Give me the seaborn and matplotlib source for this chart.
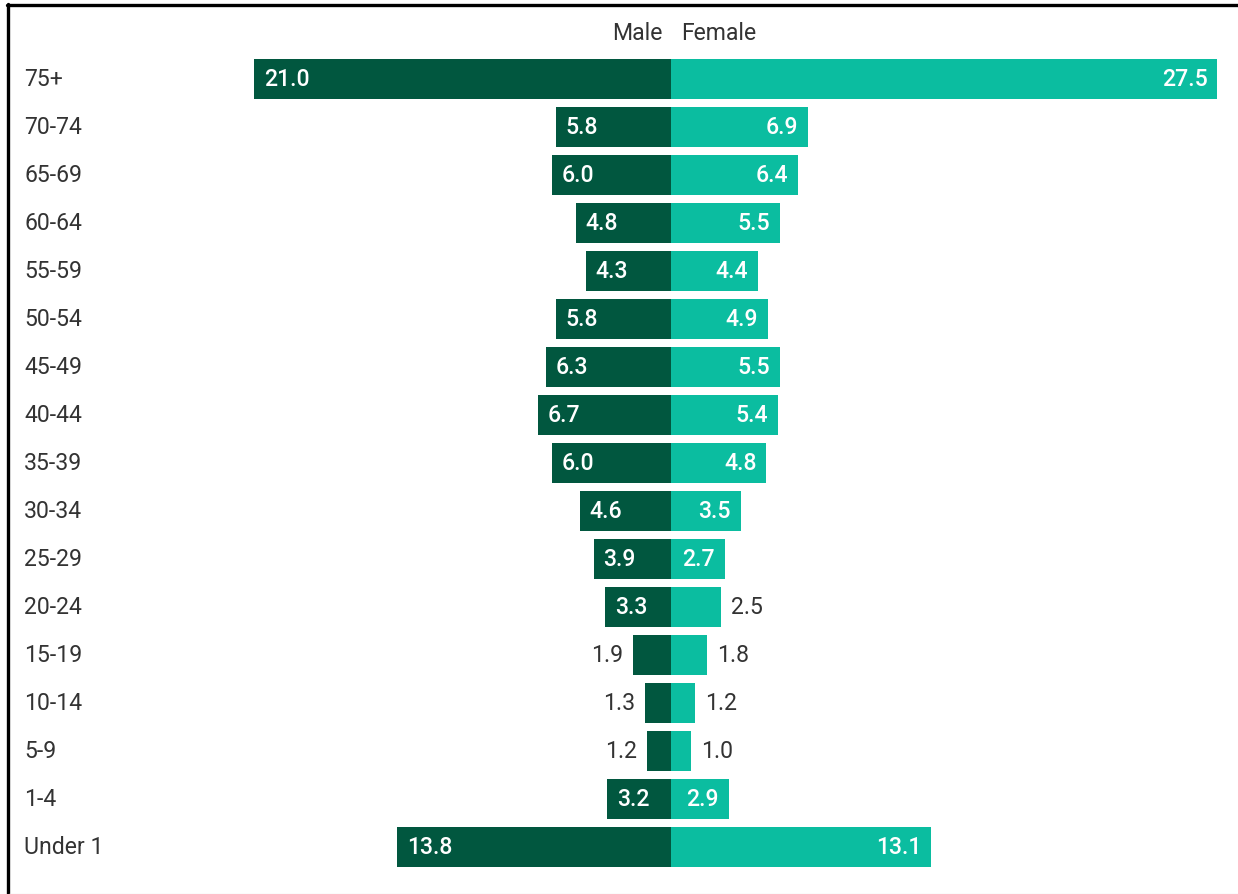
import matplotlib
matplotlib.use("Agg")
import matplotlib.pyplot as plt
from matplotlib.lines import Line2D
import seaborn as sns
import pandas as pd

categories = ["75+", "70-74", "65-69", "60-64", "55-59", "50-54", "45-49", "40-44",
              "35-39", "30-34", "25-29", "20-24", "15-19", "10-14", "5-9", "1-4", "Under 1"]
male = [21.0, 5.8, 6.0, 4.8, 4.3, 5.8, 6.3, 6.7, 6.0, 4.6, 3.9, 3.3, 1.9, 1.3, 1.2, 3.2, 13.8]
female = [27.5, 6.9, 6.4, 5.5, 4.4, 4.9, 5.5, 5.4, 4.8, 3.5, 2.7, 2.5, 1.8, 1.2, 1.0, 2.9, 13.1]
series_names = ["Male", "Female"]

MALE_C = "#01573f"
FEMALE_C = "#0bbda0"
TEXT_C = "#333333"

sns.set_theme(style="white")
plt.rcParams["font.family"] = ["Roboto", "DejaVu Sans"]

W, H = 1238, 894
fig = plt.figure(figsize=(W / 100, H / 100), dpi=100)
ax = fig.add_axes([0, 0, 1, 1])

df = pd.DataFrame({"cat": categories, "male": [-v for v in male], "female": female})
sns.barplot(data=df, x="male", y="cat", orient="h", color=MALE_C, width=0.83,
            saturation=1, ax=ax, order=categories, linewidth=0, edgecolor="none")
sns.barplot(data=df, x="female", y="cat", orient="h", color=FEMALE_C, width=0.83,
            saturation=1, ax=ax, order=categories, linewidth=0, edgecolor="none")

# pixel mapping
cx, scale = 671, 19.87
y0, dy = 79, 48
ax.set_xlim(-cx / scale, (W - cx) / scale)
ax.set_ylim((H - y0) / dy, -y0 / dy)
ax.axis("off")

pad = 10 / scale
fs = 16.6
for i, (m, f) in enumerate(zip(male, female)):
    if m >= 3.0:
        ax.text(-m + pad, i, f"{m:.1f}", ha="left", va="center", color="white",
                fontsize=fs, fontweight="medium")
    else:
        ax.text(-m - pad, i, f"{m:.1f}", ha="right", va="center", color=TEXT_C,
                fontsize=fs)
    if f >= 2.6:
        ax.text(f - pad, i, f"{f:.1f}", ha="right", va="center", color="white",
                fontsize=fs, fontweight="medium")
    else:
        ax.text(f + pad, i, f"{f:.1f}", ha="left", va="center", color=TEXT_C,
                fontsize=fs)
    ax.text(24 / W, 1 - (y0 + dy * i) / H, categories[i], transform=fig.transFigure,
            ha="left", va="center", color=TEXT_C, fontsize=fs)

fig.text(663 / W, 1 - 33 / H, series_names[0], ha="right", va="center",
         color=TEXT_C, fontsize=fs)
fig.text(681 / W, 1 - 33 / H, series_names[1], ha="left", va="center",
         color=TEXT_C, fontsize=fs)

# frame lines (top and left) as in screenshot
fig.add_artist(Line2D([7 / W, 1], [1 - 5 / H, 1 - 5 / H], transform=fig.transFigure,
                      color="black", linewidth=2.4))
fig.add_artist(Line2D([8 / W, 8 / W], [0, 1 - 4 / H], transform=fig.transFigure,
                      color="black", linewidth=2.4))
fig.add_artist(Line2D([9 / W, 1], [0.5 / H, 0.5 / H], transform=fig.transFigure,
                      color="#eeeeee", linewidth=1))

fig.savefig("out.png", dpi=100, facecolor="white")
